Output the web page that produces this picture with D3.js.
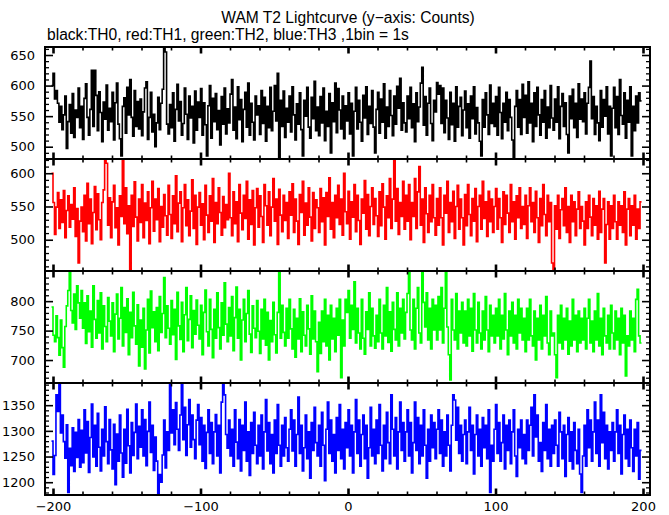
<!DOCTYPE html>
<html><head><meta charset="utf-8">
<script src="https://cdn.jsdelivr.net/npm/d3@7"></script>
<style>body{margin:0;background:#fff}svg{display:block}</style>
</head><body><svg id="c" width="669" height="515"></svg>
<script>
// ---- data (counts per 1 s bin) ----
const th0 = [
600,620,578,592,571,540,566,528,552,583,497,541,569,522,587,515,560,548,596,531,
566,512,579,603,548,519,561,625,533,625,584,526,590,556,508,573,545,601,527,563,
541,589,511,572,604,537,513,485,566,580,522,597,552,610,548,517,592,533,574,529,
578,518,557,596,606,512,548,589,524,553,500,539,581,528,571,594,660,655,537,521,
569,531,588,509,561,602,542,574,519,538,596,553,512,583,547,566,506,591,527,573,
548,595,519,572,536,485,567,600,514,579,541,587,528,559,503,582,537,596,521,562,
539,586,610,527,565,513,598,544,577,508,561,589,532,604,519,571,540,511,583,552,
567,520,592,538,581,509,566,531,597,526,558,600,542,620,480,576,533,591,515,563,
540,583,524,598,552,511,570,537,588,528,485,576,550,597,532,514,581,546,607,526,
565,518,582,539,596,510,558,533,587,490,572,541,604,523,595,560,529,583,513,567,
542,588,521,571,485,558,597,529,576,540,509,584,547,598,520,566,538,592,532,490,
561,589,522,578,540,603,514,565,533,592,551,518,583,537,599,563,612,527,572,539,
524,583,546,597,531,570,508,588,541,565,604,630,535,582,519,571,596,538,510,576,
557,605,586,600,538,596,523,576,547,512,589,536,571,509,598,532,566,581,518,560,
591,531,570,514,583,546,598,521,564,539,509,485,577,532,588,552,520,601,538,571,
533,582,519,597,556,513,571,540,589,526,577,548,511,480,566,592,532,577,520,602,
548,584,522,606,539,571,508,588,533,597,552,519,577,540,592,514,565,531,600,547,
527,578,540,598,513,566,587,533,572,520,490,583,546,594,531,571,515,603,545,578,
541,588,521,571,597,640,546,582,520,566,539,510,592,532,577,550,598,521,566,485,
563,597,531,582,520,610,551,537,588,514,576,540,598,485,566,526,583,539,588,575];
const th1 = [
600,556,508,549,571,517,560,526,574,503,544,566,519,553,531,578,505,547,465,528,
549,512,567,498,585,524,561,494,541,580,515,569,530,500,556,575,620,615,522,563,
503,557,582,518,548,492,566,535,620,524,578,509,551,455,567,520,587,534,498,561,
526,583,503,555,529,572,494,548,588,513,561,530,577,497,550,519,568,536,507,582,
538,502,566,524,596,512,555,572,497,548,583,521,560,506,543,590,517,567,493,549,
571,522,554,500,582,537,511,566,528,592,496,556,524,578,541,507,565,518,553,530,
600,533,506,572,524,557,497,583,540,515,567,532,588,501,560,523,574,492,548,577,
519,566,535,496,583,551,522,572,506,549,592,528,561,493,576,537,512,567,529,556,
502,572,537,584,511,561,528,493,568,541,588,507,555,522,578,534,498,571,517,560,
548,511,577,527,563,492,571,535,593,516,556,503,567,533,582,523,561,507,600,542,
524,573,501,557,534,583,512,567,529,493,561,540,589,516,568,506,550,578,523,562,
536,505,572,521,584,549,501,566,533,592,517,561,620,528,577,508,556,535,588,516,
567,528,583,500,556,535,592,517,572,610,522,561,496,578,539,511,567,527,583,533,
507,562,522,578,533,492,567,540,588,511,556,527,573,502,550,582,516,561,533,492,
568,521,583,538,506,562,528,577,497,550,567,516,588,532,557,505,573,527,561,511,
550,577,516,562,533,496,572,523,567,540,511,583,527,557,501,566,533,578,517,550,
523,567,502,551,578,527,556,511,573,533,496,562,521,583,538,506,567,527,556,465,
455,551,516,567,502,545,562,521,578,511,550,496,567,527,557,506,546,572,517,550,
528,492,557,517,567,534,506,562,522,551,501,573,511,546,562,465,523,557,501,551,
517,567,527,501,557,522,551,511,572,492,546,562,506,551,522,567,501,546,517,557];
const th2 = [
790,742,731,775,738,708,768,721,688,757,792,818,850,784,763,812,752,826,797,771,
818,754,797,728,809,748,783,722,826,769,737,801,746,814,719,792,757,731,806,766,
741,797,714,778,812,736,771,823,724,789,747,804,709,781,738,815,758,727,794,690,
768,722,788,685,751,803,712,817,755,782,731,789,716,808,747,779,840,738,792,754,
727,801,743,786,701,815,758,735,798,714,777,823,733,769,809,721,784,744,802,759,
736,793,709,781,819,748,724,803,752,704,786,737,814,755,719,797,742,831,761,731,
789,741,808,716,772,824,737,786,700,768,803,731,779,818,744,713,792,754,738,801,
749,711,786,736,803,725,781,700,767,731,798,743,712,781,850,737,793,747,724,788,
737,803,753,719,786,705,771,736,804,714,782,742,724,793,753,710,809,736,783,731,
680,764,711,783,731,803,724,776,700,793,736,771,714,788,742,803,670,768,724,803,
781,818,737,793,752,833,729,788,746,719,803,737,710,782,752,814,724,788,741,720,
776,731,803,746,719,793,741,823,730,782,715,798,752,734,814,724,788,746,803,736,
781,813,850,751,734,803,719,788,823,746,729,850,798,756,814,734,788,719,803,751,
793,734,808,751,823,729,788,850,756,709,666,803,751,734,813,719,783,746,798,729,
783,724,803,741,788,715,813,751,729,798,746,719,783,734,808,751,714,793,741,776,
729,788,741,803,719,776,736,813,751,709,783,741,798,729,776,719,803,746,788,734,
771,714,788,734,803,741,724,783,700,771,734,793,719,776,741,808,729,709,783,741,
746,709,670,776,729,793,719,771,734,788,710,766,724,803,734,776,714,783,729,771,
734,788,719,771,803,729,766,714,783,734,813,724,771,709,788,741,729,776,719,793,
746,719,783,734,771,709,788,729,776,673,741,724,783,734,771,714,803,820,741,729];
const th3 = [
1280,1215,1252,1370,1338,1390,1296,1331,1279,1247,1312,1180,1266,1232,1306,1221,1297,1248,1322,1229,
1301,1238,1341,1257,1318,1219,1287,1352,1249,1311,1231,1334,1268,1222,1303,1251,1347,1279,1236,1322,
1263,1226,1313,1195,1294,1241,1331,1257,1210,1303,1237,1342,1271,1218,1316,1252,1297,1352,1246,1309,
1268,1341,1251,1322,1232,1299,1356,1258,1311,1223,1288,1241,1176,1215,1200,1253,1321,1228,1298,1262,
1390,1296,1341,1273,1355,1303,1262,1331,1390,1283,1346,1252,1312,1361,1268,1331,1283,1246,1321,1351,
1273,1326,1241,1311,1227,1297,1341,1256,1316,1236,1298,1332,1251,1311,1218,1356,1390,1370,1293,1266,
1321,1251,1303,1231,1341,1278,1246,1322,1222,1311,1262,1356,1241,1298,1213,1316,1256,1336,1272,1236,
1311,1251,1331,1226,1298,1361,1261,1316,1236,1293,1218,1321,1256,1351,1272,1231,1311,1251,1326,1267,
1241,1303,1341,1261,1321,1231,1293,1366,1256,1311,1222,1267,1331,1246,1298,1208,1316,1262,1346,1277,
1251,1311,1231,1336,1272,1203,1303,1356,1256,1321,1241,1293,1218,1326,1262,1351,1246,1303,1226,1316,
1267,1341,1251,1311,1218,1298,1361,1256,1321,1231,1293,1331,1246,1311,1208,1267,1346,1251,1303,1236,
1321,1256,1351,1272,1222,1311,1246,1336,1277,1236,1370,1303,1251,1326,1226,1298,1356,1262,1316,1241,
1298,1341,1251,1316,1218,1277,1356,1262,1326,1236,1311,1251,1341,1272,1208,1303,1241,1331,1267,1316,
1246,1303,1341,1256,1321,1231,1298,1251,1331,1272,1222,1311,1370,1360,1282,1346,1256,1311,1241,1293,
1321,1236,1298,1346,1262,1311,1216,1293,1331,1251,1303,1231,1326,1267,1311,1246,1341,1180,1272,1241,
1303,1351,1256,1316,1241,1277,1331,1226,1311,1262,1321,1236,1298,1341,1251,1211,1303,1267,1321,1246,
1293,1236,1321,1262,1311,1346,1251,1370,1288,1331,1241,1277,1221,1316,1262,1351,1246,1303,1231,1311,
1256,1321,1272,1231,1336,1298,1246,1311,1211,1293,1326,1241,1298,1226,1316,1262,1236,1303,1216,1180,
1251,1311,1231,1341,1267,1321,1241,1298,1356,1256,1321,1231,1370,1277,1336,1246,1311,1226,1298,1262,
1316,1241,1298,1341,1256,1311,1216,1293,1331,1246,1303,1231,1321,1267,1221,1303,1251,1316,1206,1262];

const seriesNames = ["TH0", "TH1", "TH2", "TH3"];
const seriesValues = [th0, th1, th2, th3];
const binStart = -201;   // left edge of first 1 s bin
const binWidth = 1;
const xMajorTicks = [-200, -100, 0, 100, 200];
const xMinorTicks = [-180,-160,-140,-120,-80,-60,-40,-20,20,40,60,80,120,140,160,180];
const yTickLabels = [[500,550,600,650],[500,550,600],[700,750,800],[1200,1250,1300,1350]];
const yDomains = [[479.9,663.1],[453.0,621.4],[661.0,851.2],[1175.1,1393.2]];
const titleText = "WAM T2 Lightcurve (y\u2212axis: Counts)";
const subtitleText = "black:TH0, red:TH1, green:TH2, blue:TH3 ,1bin = 1s";

// ---- styling / layout ----
const colors = ["#000000", "#ff0000", "#00ff00", "#0000ff"];
const L = 45, R = 650, T = 47, PH = 112;
const svg = d3.select("#c");
const x = d3.scaleLinear().domain([-200, 200]).range([53, 643]);
const fontTicks = "DejaVu Sans, sans-serif";

svg.append("text").attr("x", 348).attr("y", 23).attr("text-anchor", "middle")
  .attr("font-family", "Liberation Sans, Arial, sans-serif").attr("font-size", 15.6).text(titleText);
svg.append("text").attr("x", 47).attr("y", 40)
  .attr("font-family", "Liberation Sans, Arial, sans-serif").attr("font-size", 15.6).text(subtitleText);

seriesValues.forEach((vals, p) => {
  const top = T + p * PH, bot = top + PH;
  const y = d3.scaleLinear().domain(yDomains[p]).range([bot, top]);
  const g = svg.append("g");
  const cid = "clip" + p;
  svg.append("clipPath").attr("id", cid).append("rect")
    .attr("x", L).attr("y", top).attr("width", R - L).attr("height", PH);
  const pts = vals.map((v, i) => [binStart + i * binWidth, v]);
  pts.push([binStart + vals.length * binWidth, vals[vals.length - 1]]);
  const line = d3.line().x(d => x(d[0])).y(d => y(d[1])).curve(d3.curveStepAfter);
  g.append("path").attr("d", line(pts)).attr("fill", "none").attr("stroke", colors[p])
    .attr("stroke-width", 1.6).attr("clip-path", `url(#${cid})`);

  // y minor ticks every 10
  const [d0, d1] = yDomains[p];
  const minorY = d3.range(Math.ceil(d0 / 10) * 10, d1, 10).filter(v => v % 50 !== 0);
  const axL = (ax, tx) => svg.append("g").attr("transform", `translate(${tx},0)`).call(ax)
    .call(s => s.select(".domain").remove());
  axL(d3.axisLeft(y).tickValues(minorY).tickSize(-4).tickFormat(""), L)
    .selectAll("line").attr("stroke-width", 1.3);
  axL(d3.axisRight(y).tickValues(minorY).tickSize(-4).tickFormat(""), R)
    .selectAll("line").attr("stroke-width", 1.3);
  const majL = axL(d3.axisLeft(y).tickValues(yTickLabels[p]).tickSize(-8).tickPadding(10).tickFormat(d3.format("d")), L);
  majL.selectAll("line").attr("stroke-width", 1.6);
  majL.selectAll("text").attr("font-family", fontTicks).attr("font-size", 13).attr("fill", "#000");
  axL(d3.axisRight(y).tickValues(yTickLabels[p]).tickSize(-8).tickFormat(""), R)
    .selectAll("line").attr("stroke-width", 1.6);

  // x ticks top & bottom of each panel
  const axX = (ax, ty) => svg.append("g").attr("transform", `translate(0,${ty})`).call(ax)
    .call(s => s.select(".domain").remove());
  axX(d3.axisBottom(x).tickValues(xMinorTicks).tickSize(-3.5).tickFormat(""), bot).selectAll("line").attr("stroke-width", 1.6);
  axX(d3.axisTop(x).tickValues(xMinorTicks).tickSize(-3.5).tickFormat(""), top).selectAll("line").attr("stroke-width", 1.6);
  axX(d3.axisTop(x).tickValues(xMajorTicks).tickSize(-6.5).tickFormat(""), top).selectAll("line").attr("stroke-width", 2.6);
  const bx = axX(d3.axisBottom(x).tickValues(xMajorTicks).tickSize(-6.5).tickPadding(7)
      .tickFormat(p === 3 ? (d => d < 0 ? "\u2212" + Math.abs(d) : String(d)) : ""), bot);
  bx.selectAll("line").attr("stroke-width", 2.6);
  bx.selectAll("text").attr("font-family", fontTicks).attr("font-size", 13).attr("fill", "#000");

  svg.append("rect").attr("x", L).attr("y", top).attr("width", R - L).attr("height", PH)
    .attr("fill", "none").attr("stroke", "#000").attr("stroke-width", 2);
});
</script></body></html>
